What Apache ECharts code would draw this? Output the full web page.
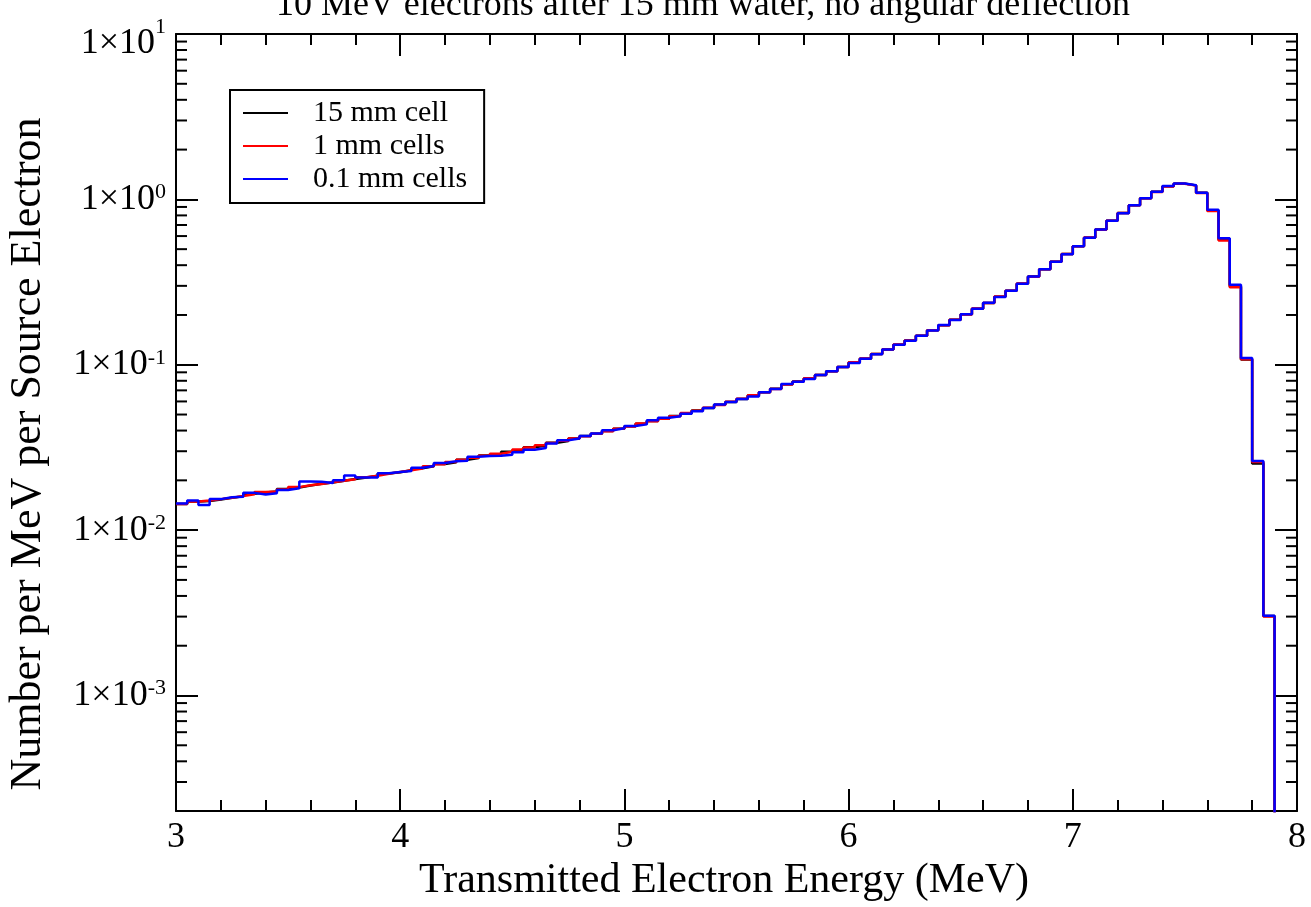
<!DOCTYPE html>
<html>
<head>
<meta charset="utf-8">
<title>Transmitted electron spectrum</title>
<script src="https://cdn.jsdelivr.net/npm/echarts@6/dist/echarts.min.js"></script>
<style>
  html, body { margin: 0; padding: 0; background: #fff; }
  #chart { width: 1311px; height: 907px; }
</style>
</head>
<body>
<div id="chart"></div>
<script>
// histogram bins: 0.05 MeV wide, left edges from 3.00 MeV
var binStart = 3.0;
var binWidth = 0.05;

// 0.1 mm cells (blue)
var blueCells = [
    0.0145, 0.0151, 0.0142, 0.0154, 0.0158, 0.0159, 0.0168, 0.0164, 0.0167, 0.0175,
    0.0179, 0.0197, 0.0196, 0.0193, 0.0200, 0.0214, 0.0208, 0.0208, 0.0221, 0.0225,
    0.0228, 0.0238, 0.0244, 0.0255, 0.0261, 0.0263, 0.0278, 0.0281, 0.0282, 0.0286,
    0.0296, 0.0306, 0.0314, 0.0334, 0.0350, 0.0358, 0.0371, 0.0384, 0.0402, 0.0413,
    0.0426, 0.0436, 0.0461, 0.0478, 0.0488, 0.0505, 0.0523, 0.0548, 0.0574, 0.0595,
    0.0620, 0.0643, 0.0683, 0.0714, 0.0765, 0.0790, 0.0820, 0.0866, 0.0915, 0.0970,
    0.1025, 0.1086, 0.1159, 0.1237, 0.1319, 0.1399, 0.1499, 0.1613, 0.1737, 0.1867,
    0.2019, 0.2181, 0.2368, 0.2570, 0.2806, 0.3090, 0.3416, 0.3776, 0.4198, 0.4666,
    0.5208, 0.5858, 0.6573, 0.7437, 0.8255, 0.9216, 1.0145, 1.112, 1.203, 1.247,
    1.219, 1.097, 0.865, 0.583, 0.305, 0.110, 0.0262, 0.00304, 0, 0
];

// 1 mm cells (red)
var redCells = [
    0.0144, 0.0149, 0.0151, 0.0154, 0.0157, 0.0161, 0.0165, 0.0170, 0.0171, 0.0176,
    0.0182, 0.0187, 0.0190, 0.0195, 0.0199, 0.0203, 0.0209, 0.0213, 0.0219, 0.0225,
    0.0230, 0.0236, 0.0243, 0.0250, 0.0258, 0.0266, 0.0274, 0.0282, 0.0290, 0.0298,
    0.0307, 0.0316, 0.0326, 0.0336, 0.0347, 0.0358, 0.0370, 0.0383, 0.0396, 0.0410,
    0.0424, 0.0442, 0.0456, 0.0472, 0.0489, 0.0510, 0.0527, 0.0549, 0.0571, 0.0597,
    0.0622, 0.0655, 0.0682, 0.0714, 0.0760, 0.0790, 0.0828, 0.0866, 0.0912, 0.0968,
    0.1034, 0.1090, 0.1160, 0.1236, 0.1325, 0.1401, 0.1497, 0.1618, 0.1733, 0.1873,
    0.2015, 0.2186, 0.2360, 0.2584, 0.2800, 0.3095, 0.3410, 0.3786, 0.4190, 0.4682,
    0.5200, 0.5872, 0.6560, 0.7420, 0.8270, 0.9200, 1.0160, 1.110, 1.198, 1.244,
    1.211, 1.093, 0.852, 0.565, 0.294, 0.108, 0.0258, 0.00300, 0, 0
];

// 15 mm cell (black)
var blackCells = [
    0.0144, 0.0149, 0.0150, 0.0153, 0.0157, 0.0160, 0.0166, 0.0169, 0.0171, 0.0177,
    0.0181, 0.0186, 0.0191, 0.0194, 0.0199, 0.0204, 0.0208, 0.0213, 0.0220, 0.0224,
    0.0230, 0.0237, 0.0243, 0.0251, 0.0257, 0.0266, 0.0273, 0.0283, 0.0289, 0.0298,
    0.0306, 0.0317, 0.0325, 0.0337, 0.0346, 0.0358, 0.0371, 0.0382, 0.0397, 0.0410,
    0.0425, 0.0440, 0.0457, 0.0471, 0.0490, 0.0508, 0.0528, 0.0548, 0.0572, 0.0596,
    0.0621, 0.0652, 0.0683, 0.0715, 0.0761, 0.0791, 0.0826, 0.0867, 0.0913, 0.0969,
    0.1031, 0.1089, 0.1161, 0.1237, 0.1322, 0.1400, 0.1498, 0.1616, 0.1735, 0.1870,
    0.2017, 0.2184, 0.2363, 0.2578, 0.2803, 0.3093, 0.3413, 0.3781, 0.4194, 0.4675,
    0.5204, 0.5865, 0.6566, 0.7428, 0.8262, 0.9208, 1.0152, 1.111, 1.200, 1.245,
    1.215, 1.095, 0.858, 0.572, 0.298, 0.1075, 0.0253, 0.00302, 0, 0
];

var seriesNames = ['15 mm cell', '1 mm cells', '0.1 mm cells'];
var seriesColors = ['#000000', '#ff0000', '#0000ff'];

// y axis: decades and minor tick mantissas
var yMin = 2e-4;
var yMax = 10;
var xMin = 3;
var xMax = 8;
var minorMantissa = [2, 3, 4, 5, 6, 7, 8, 9];
var minorDecades = [1e-4, 1e-3, 1e-2, 1e-1, 1];

// empty bins cannot sit on a log axis, draw them far below the frame
var zeroFloor = 1e-9;

var serif = 'Liberation Serif';

function toSteps(values) {
    var pts = [];
    for (var i = 0; i < values.length; i++) {
        var x = +(binStart + i * binWidth).toFixed(2);
        pts.push([x, values[i] > 0 ? values[i] : zeroFloor]);
    }
    // closing edge of the last bin
    var last = values[values.length - 1];
    pts.push([+(binStart + values.length * binWidth).toFixed(2), last > 0 ? last : zeroFloor]);
    return pts;
}

var minorTicks = [];
for (var d = 0; d < minorDecades.length; d++) {
    for (var m = 0; m < minorMantissa.length; m++) {
        var v = minorDecades[d] * minorMantissa[m];
        if (v > yMin && v < yMax) minorTicks.push([xMin, v]);
    }
}

function yLabel(value) {
    var lg = Math.log(value) / Math.LN10;
    var e = Math.round(lg);
    if (Math.abs(lg - e) > 1e-6) return '';
    if (e === 1) return '{t|1×10}{ts|' + e + '}';
    return '{m|1×10}{s|' + e + '}';
}

var myChart = echarts.init(document.getElementById('chart'));

var xAxisBase = {
    type: 'value',
    min: xMin,
    max: xMax,
    interval: 1,
    splitLine: { show: false },
    axisLine: { show: true, onZero: false, lineStyle: { color: '#000', width: 2 } },
    axisTick: { show: true, inside: true, length: 22, lineStyle: { color: '#000', width: 2 } },
    minorTick: { show: true, splitNumber: 5, length: 11, lineStyle: { color: '#000', width: 2 } }
};

var yAxisBase = {
    type: 'log',
    logBase: 10,
    min: yMin,
    max: yMax,
    splitLine: { show: false },
    axisLine: { show: true, onZero: false, lineStyle: { color: '#000', width: 2 } },
    axisTick: { show: true, inside: true, length: 22, lineStyle: { color: '#000', width: 2 } }
};

var series = [blackCells, redCells, blueCells].map(function (vals, i) {
    return {
        name: seriesNames[i],
        type: 'line',
        step: 'end',
        symbol: 'none',
        clip: true,
        data: toSteps(vals),
        lineStyle: { color: seriesColors[i], width: 2.5 },
        itemStyle: { color: seriesColors[i] },
        z: 2 + i
    };
});

series.push({
    type: 'custom',
    silent: true,
    clip: false,
    xAxisIndex: 0,
    yAxisIndex: 0,
    data: minorTicks,
    renderItem: function (params, api) {
        var v = api.value(1);
        var l = api.coord([xMin, v]);
        var r = api.coord([xMax, v]);
        var st = { stroke: '#000', lineWidth: 2 };
        return {
            type: 'group',
            children: [
                { type: 'line', shape: { x1: l[0], y1: l[1], x2: l[0] + 11, y2: l[1] }, style: st },
                { type: 'line', shape: { x1: r[0] - 11, y1: r[1], x2: r[0], y2: r[1] }, style: st }
            ]
        };
    },
    z: 10
});

var option = {
    animation: false,
    backgroundColor: '#fff',
    textStyle: { fontFamily: serif },
    title: {
        text: '10 MeV electrons after 15 mm water, no angular deflection',
        left: 698,
        top: -17,
        textAlign: 'center',
        textStyle: { fontFamily: serif, fontSize: 36, fontWeight: 'normal', color: '#000' }
    },
    grid: { left: 176, right: 14, top: 34, bottom: 80, containLabel: false },
    legend: {
        orient: 'vertical',
        left: 230,
        top: 90,
        data: seriesNames,
        icon: 'rect',
        padding: [8, 17, 9, 13],
        borderColor: '#000',
        borderWidth: 2,
        backgroundColor: '#fff',
        itemGap: 3,
        itemWidth: 45,
        itemHeight: 2,
        textStyle: { fontFamily: serif, fontSize: 30, lineHeight: 30, color: '#000', padding: [0, 0, 0, 20] }
    },
    xAxis: [
        Object.assign({}, xAxisBase, {
            position: 'bottom',
            name: 'Transmitted Electron Energy (MeV)',
            nameLocation: 'middle',
            nameGap: 37,
            nameTextStyle: { fontFamily: serif, fontSize: 42, color: '#000', padding: [0, 25, 0, 0] },
            axisLabel: { show: true, margin: 8, color: '#000', fontFamily: serif, fontSize: 36 }
        }),
        Object.assign({}, xAxisBase, {
            position: 'top',
            axisLabel: { show: false }
        })
    ],
    yAxis: [
        Object.assign({}, yAxisBase, {
            position: 'left',
            axisLabel: {
                show: true,
                margin: 10,
                showMinLabel: false,
                formatter: yLabel,
                rich: {
                    m: { fontFamily: serif, fontSize: 36, lineHeight: 36, color: '#000' },
                    s: { fontFamily: serif, fontSize: 22, lineHeight: 22, verticalAlign: 'top', color: '#000' },
                    t: { fontFamily: serif, fontSize: 36, lineHeight: 36, color: '#000', padding: [20, 0, 0, 0] },
                    ts: { fontFamily: serif, fontSize: 22, lineHeight: 22, verticalAlign: 'top', color: '#000' }
                }
            }
        }),
        Object.assign({}, yAxisBase, {
            position: 'right',
            axisLabel: { show: false }
        })
    ],
    graphic: [{
        type: 'text',
        x: 28,
        y: 454,
        rotation: Math.PI / 2,
        style: {
            text: 'Number per MeV per Source Electron',
            fontFamily: serif,
            fontSize: 44,
            fill: '#000',
            align: 'center',
            verticalAlign: 'middle'
        }
    }],
    series: series
};

myChart.setOption(option);
window.addEventListener('resize', function () {
    myChart.resize();
});
</script>
</body>
</html>
